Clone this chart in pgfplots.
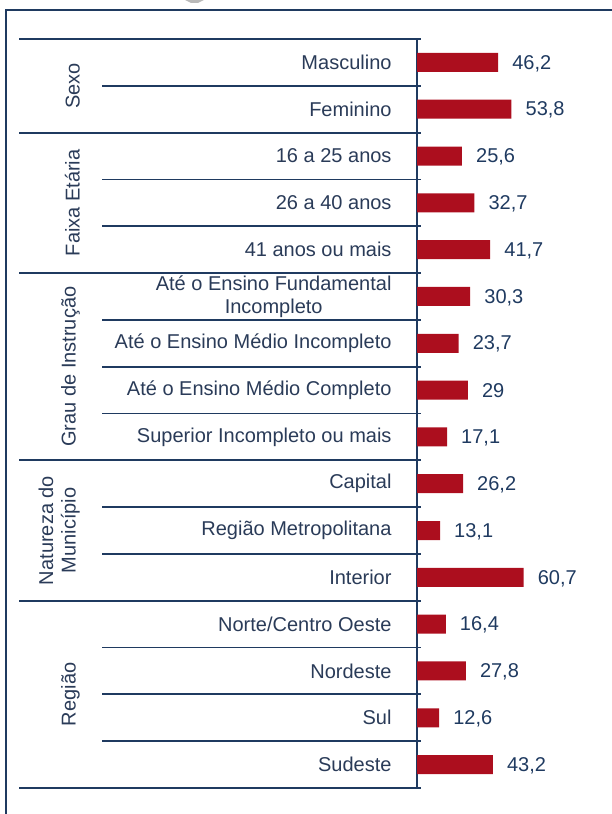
\documentclass[border=0pt]{standalone}
\usepackage{fontspec}
\setmainfont{Liberation Sans}
\usepackage{pgfplots}
\pgfplotsset{compat=1.18}
\definecolor{navy}{HTML}{1F3A60}
\definecolor{txt}{HTML}{2A3B58}
\definecolor{barred}{HTML}{AC0E1E}
\begin{document}
\begin{tikzpicture}
\useasboundingbox (0,0) rectangle (611pt,814pt);
\fill[gray!55] (185pt,814pt) -- (204pt,814pt) -- (198pt,811pt) -- (191pt,811pt) -- cycle;
\draw[line width=2pt, navy] (6pt,0pt) -- (6pt,804pt) -- (612pt,804pt);
\begin{axis}[
  at={(417pt,26pt)}, anchor=south west,
  scale only axis, width=194pt, height=749pt,
  xmin=0, xmax=110.5, ymin=-0.5, ymax=15.5, y dir=reverse,
  xbar, bar width=19pt,
  axis x line=none, axis y line*=left,
  y axis line style={navy, line width=1.8pt, -},
  ytick={0,...,15},
  yticklabels={Masculino, Feminino, 16 a 25 anos, 26 a 40 anos, 41 anos ou mais,
    {Até o Ensino Fundamental\\Incompleto}, Até o Ensino Médio Incompleto,
    Até o Ensino Médio Completo, Superior Incompleto ou mais, Capital,
    Região Metropolitana, Interior, Norte/Centro Oeste, Nordeste, Sul, Sudeste},
  ytick style={draw=none},
  yticklabel style={anchor=east, align=center, inner sep=0pt, xshift=-21pt,
    font=\fontsize{20}{22.5}\selectfont, text=txt},
  nodes near coords,
  nodes near coords style={anchor=west, xshift=14pt, yshift=-1pt, inner sep=0pt,
    font=\fontsize{20}{22.5}\selectfont, text=navy,
    /pgf/number format/.cd, use comma, fixed, precision=1, assume math mode=true},
  clip=false,
]
\addplot[fill=barred, draw=none] coordinates {
(46.2,0) (53.8,1) (25.6,2) (32.7,3) (41.7,4) (30.3,5) (23.7,6) (29,7)
(17.1,8) (26.2,9) (13.1,10) (60.7,11) (16.4,12) (27.8,13) (12.6,14) (43.2,15)};
\end{axis}
\foreach \k in {0,2,5,9,12,16} \draw[line width=1.8pt, navy] (19pt,{775pt-46.8125pt*\k}) -- (421pt,{775pt-46.8125pt*\k});
\foreach \k in {1,3,4,6,7,8,10,11,13,14,15} \draw[line width=1.8pt, navy] (102pt,{775pt-46.8125pt*\k}) -- (421pt,{775pt-46.8125pt*\k});
\begin{scope}[every node/.style={rotate=90, anchor=south, inner sep=0pt, align=center, text=txt, font=\fontsize{20}{22.5}\selectfont}]
\node at (80pt,{775pt-46.8125pt*1}) {Sexo};
\node at (80pt,{775pt-46.8125pt*3.5}) {Faixa Etária};
\node at (80pt,{775pt-46.8125pt*7}) {Grau de Instrução};
\node at (80pt,{775pt-46.8125pt*10.5}) {Natureza do\\Município};
\node at (80pt,{775pt-46.8125pt*14}) {Região};
\end{scope}
\end{tikzpicture}
\end{document}
